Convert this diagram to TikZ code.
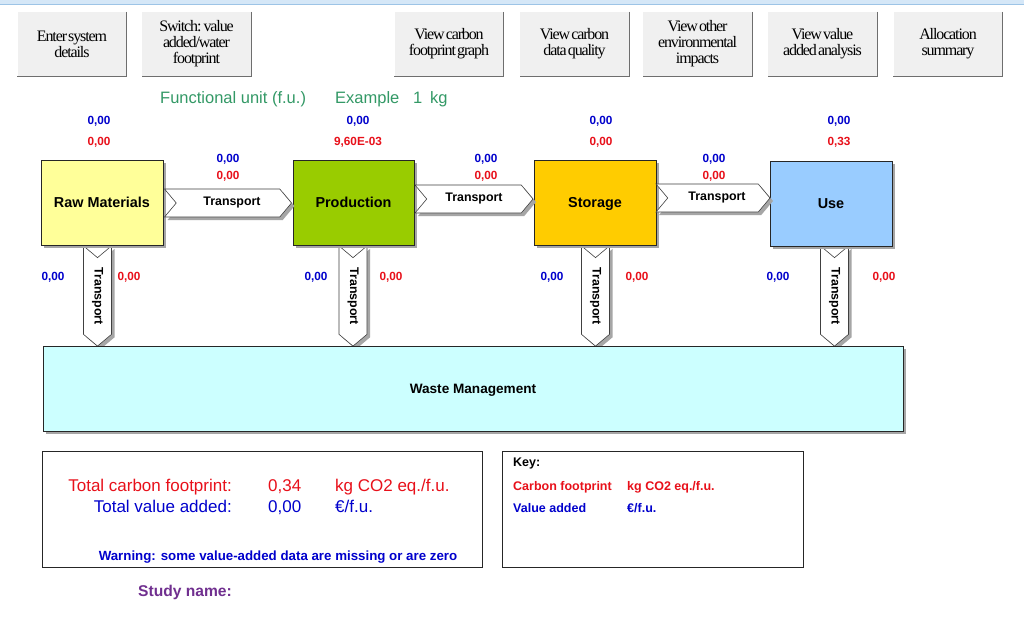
\documentclass[tikz,border=0pt]{standalone}
\usepackage{fontspec}
\usepackage{graphicx}
\setmainfont{Liberation Sans}
\newfontfamily\btnfont{Liberation Serif}[LetterSpace=-7,WordSpace=0.4]
\usetikzlibrary{shapes.symbols,shadows,calc}
\newcommand\boxtxt[1]{\raisebox{-5pt}[0pt][0pt]{#1}}
\definecolor{rawc}{HTML}{FFFF99}
\definecolor{prodc}{HTML}{99CC00}
\definecolor{storc}{HTML}{FFCC00}
\definecolor{usec}{HTML}{99CCFF}
\definecolor{wastec}{HTML}{CCFFFF}
\definecolor{vblue}{HTML}{0000CC}
\definecolor{vred}{HTML}{E8101A}
\definecolor{fugreen}{HTML}{339966}
\definecolor{studyc}{HTML}{702F8F}
\definecolor{btngray}{HTML}{F0F0F0}
\definecolor{btndark}{HTML}{6E6E6E}
\definecolor{topblue}{HTML}{D5E7F7}
\definecolor{topline}{HTML}{9DC4E6}
\tikzset{
  shad/.style={drop shadow={shadow xshift=3pt,shadow yshift=-3pt,fill=black!35,opacity=1}},
  procbox/.style={draw=black!85,line width=0.9pt,minimum width=122pt,minimum height=85pt,inner sep=0pt,
    font=\fontsize{14.4}{17}\selectfont\bfseries,shad},
  harrow/.style={signal,signal to=east,signal from=west,signal pointer angle=100,draw=black!75,fill=white,
    line width=0.6pt,inner sep=0pt,minimum height=28pt,font=\fontsize{12.4}{15}\selectfont\bfseries,shad},
  varrow/.style={signal,signal to=south,signal from=north,signal pointer angle=100,draw=black!75,fill=white,
    line width=0.6pt,inner sep=0pt,minimum width=28pt,minimum height=86pt,font=\fontsize{12.4}{15}\selectfont\bfseries,shad},
  btn/.style={fill=btngray,minimum width=109pt,minimum height=64pt,inner sep=0pt,align=center,
    font=\btnfont\fontsize{16}{16}\selectfont},
  btnedge/.style={draw=btndark,line width=1.3pt},
  val/.style={inner sep=0pt,anchor=base,font=\fontsize{11.8}{14}\selectfont\bfseries},
  bval/.style={val,text=vblue},
  rval/.style={val,text=vred},
  panel/.style={draw=black!85,line width=0.9pt},
  txt/.style={inner sep=0pt}
}
\begin{document}
\begin{tikzpicture}[x=1pt,y=-1pt]
\useasboundingbox[fill=white] (0,0) rectangle (1024,637);
% top strip
\fill[topblue] (0,0) rectangle (1024,4);
\draw[topline,line width=0.8pt] (0,4) -- (1024,4);

% buttons
\foreach \n/\cx/\lab in {b1/72/{Enter system\\details},
  b2/196.5/{Switch: value\\added/water\\footprint},
  b3/449/{View carbon\\footprint graph},
  b4/574.5/{View carbon\\data quality},
  b5/697.5/{View other\\environmental\\impacts},
  b6/822.5/{View value\\added analysis},
  b7/948/{Allocation\\summary}}{
  \node[btn] (\n) at (\cx,44) {\lab};
  \draw[btnedge] (\n.north east) -- (\n.south east) -- (\n.south west);
}

% functional unit
\node[txt,anchor=base west,text=fugreen,font=\fontsize{16.5}{19}\selectfont] (fu) at (160,103) {Functional unit (f.u.)};
\node[txt,anchor=base west,text=fugreen,font=\fontsize{16.5}{19}\selectfont] (fuex) at (335,103) {Example};
\node[txt,anchor=base west,text=fugreen,font=\fontsize{16.5}{19}\selectfont] (fuone) at (413,103) {1};
\node[txt,anchor=base west,text=fugreen,font=\fontsize{16.5}{19}\selectfont] (fukg) at (430,103) {kg};

% vertical transports (drawn first, boxes overlap their tops)
\node[varrow] (v1) at (97.5,296) {\rotatebox{-90}{Transport}};
\node[varrow] (v2) at (353,296) {\rotatebox{-90}{Transport}};
\node[varrow] (v3) at (595.5,296) {\rotatebox{-90}{Transport}};
\node[varrow] (v4) at (834.5,296) {\rotatebox{-90}{Transport}};

% process boxes
\node[procbox,fill=rawc] (raw) at (102,202.5) {\boxtxt{Raw Materials}};
\node[procbox,fill=prodc,minimum width=121pt] (prod) at (353.5,202.5) {\boxtxt{Production}};
\node[procbox,fill=storc] (stor) at (595,202.5) {\boxtxt{Storage}};
\node[procbox,fill=usec] (use) at (831,203.5) {\boxtxt{Use}};

% values above boxes
\node[bval] (rawb) at (99,124.5) {0,00};
\node[rval] (rawr) at (99,145.5) {0,00};
\node[bval] (prodb) at (358,124.5) {0,00};
\node[rval] (prodr) at (358,145.5) {9,60E-03};
\node[bval] (storb) at (601,124.5) {0,00};
\node[rval] (storr) at (601,145.5) {0,00};
\node[bval] (useb) at (839,124.5) {0,00};
\node[rval] (user) at (839,145.5) {0,33};

% horizontal transports
\node[harrow,minimum width=127pt] (t1) at ($(raw.east)!0.5!(prod.west)+(0,0.5)$) {\hspace*{8pt}Transport};
\node[harrow,minimum width=118pt] (t2) at ($(prod.east)!0.5!(stor.west)+(0,-3.5)$) {Transport};
\node[harrow,minimum width=114pt] (t3) at ($(stor.east)!0.5!(use.west)+(0,-5)$) {\hspace*{8pt}Transport};
\node[bval] (t1b) at (228,162) {0,00};
\node[rval] (t1r) at (228,179) {0,00};
\node[bval] (t2b) at (486,162) {0,00};
\node[rval] (t2r) at (486,179) {0,00};
\node[bval] (t3b) at (714,162) {0,00};
\node[rval] (t3r) at (714,179) {0,00};

% waste management
\node[procbox,fill=wastec,minimum width=860pt,minimum height=85pt,font=\fontsize{13.6}{16}\selectfont\bfseries] (waste) at (473,388.5) {\boxtxt{Waste Management}};
\node[bval] (v1b) at (53,280) {0,00};
\node[rval] (v1r) at (129,280) {0,00};
\node[bval] (v2b) at (316,280) {0,00};
\node[rval] (v2r) at (391,280) {0,00};
\node[bval] (v3b) at (552,280) {0,00};
\node[rval] (v3r) at (637,280) {0,00};
\node[bval] (v4b) at (778,280) {0,00};
\node[rval] (v4r) at (884,280) {0,00};

% totals panel
\draw[panel] (42,451) rectangle (482,567);
\node[txt,anchor=base east,text=vred,font=\fontsize{17}{20}\selectfont] (tcf) at (232,491) {Total carbon footprint:};
\node[txt,anchor=base west,text=vred,font=\fontsize{17}{20}\selectfont] (tcfv) at (268,491) {0,34};
\node[txt,anchor=base west,text=vred,font=\fontsize{17}{20}\selectfont] (tcfu) at (335,491) {kg CO2 eq./f.u.};
\node[txt,anchor=base east,text=vblue,font=\fontsize{17}{20}\selectfont] (tva) at (232,512.5) {Total value added:};
\node[txt,anchor=base west,text=vblue,font=\fontsize{17}{20}\selectfont] (tvav) at (268,512.5) {0,00};
\node[txt,anchor=base west,text=vblue,font=\fontsize{17}{20}\selectfont] (tvau) at (335,512.5) {€/f.u.};
\node[txt,anchor=base,text=vblue,font=\fontsize{13.3}{16}\selectfont\bfseries] (warn) at (278,560) {Warning: some value-added data are missing or are zero};

% study name
\node[txt,anchor=base west,text=studyc,font=\fontsize{15.6}{18}\selectfont\bfseries] (study) at (138,596.7) {Study name:};

% key panel
\draw[panel] (502,451) rectangle (803,567);
\node[txt,anchor=base west,font=\fontsize{12.5}{14}\selectfont\bfseries] (key) at (513,466.7) {Key:};
\node[txt,anchor=base west,text=vred,font=\fontsize{12.5}{14}\selectfont\bfseries] (kcf) at (513,490) {Carbon footprint};
\node[txt,anchor=base west,text=vred,font=\fontsize{12.5}{14}\selectfont\bfseries] (kcfu) at (627,490) {kg CO2 eq./f.u.};
\node[txt,anchor=base west,text=vblue,font=\fontsize{12.5}{14}\selectfont\bfseries] (kva) at (513,512.3) {Value added};
\node[txt,anchor=base west,text=vblue,font=\fontsize{12.5}{14}\selectfont\bfseries] (kvau) at (627,512.3) {€/f.u.};
\end{tikzpicture}
\end{document}
